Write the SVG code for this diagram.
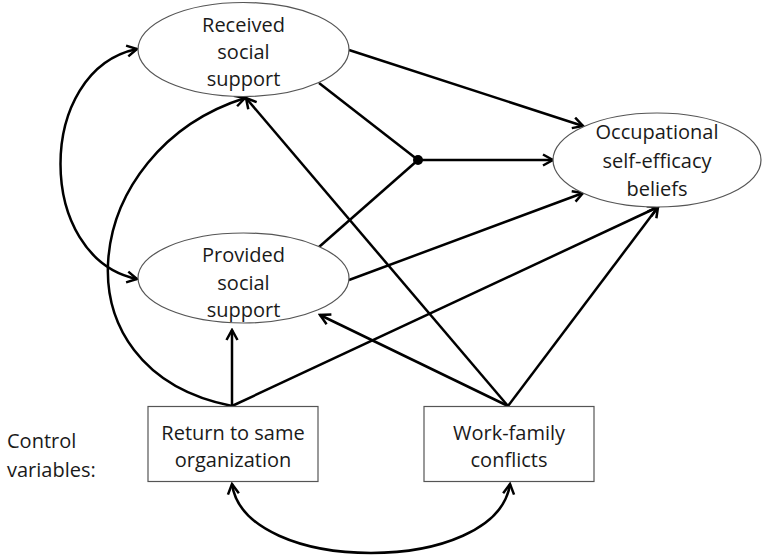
<svg xmlns="http://www.w3.org/2000/svg" width="766" height="557" viewBox="0 0 766 557">
<style>
.node{fill:#fff;stroke:#555;stroke-width:1.2}
.t{font-family:"Open Sans","Liberation Sans",sans-serif;font-size:20px;fill:#1a1a1a;text-anchor:middle}
.c{fill:none;stroke:#000;stroke-width:2.5}
.ar{marker-end:url(#ah)}
.dbl{marker-start:url(#ah);marker-end:url(#ah)}
</style>
<defs>
<marker id="ah" markerUnits="userSpaceOnUse" viewBox="0 0 14 14" refX="12" refY="7" markerWidth="14" markerHeight="14" orient="auto-start-reverse">
<path d="M2,1.5 L12,7 L2,12.5" fill="none" stroke="#000" stroke-width="2.5" stroke-linejoin="miter"/>
</marker>
</defs>
<rect width="766" height="557" fill="#fff"/>
<g id="connectors">
<path class="c dbl" d="M137,49 C35,70 35,258 137,279"/>
<path class="c ar" d="M232,406 C50,370 80,150 245,98"/>
<path class="c dbl" d="M232,484 C245,576 497,576 510,484"/>
<path class="c ar" d="M349,50 L583,126"/>
<path class="c" d="M319,83 L418,160"/>
<path class="c" d="M319,247 L418,160"/>
<path class="c ar" d="M418,160 L553,160"/>
<path class="c ar" d="M349,280 L583,193"/>
<path class="c ar" d="M232,406 L232,330"/>
<path class="c ar" d="M232,406 L658,207"/>
<path class="c ar" d="M508,406 L658,207"/>
<path class="c ar" d="M508,406 L246,98"/>
<path class="c ar" d="M508,406 L320,315"/>
<circle cx="418" cy="160" r="5" fill="#000"/>
</g>
<g id="received">
<ellipse class="node" cx="243.5" cy="49.5" rx="105.5" ry="47"/>
<text class="t" x="243.5" y="32">Received</text>
<text class="t" x="243.5" y="59">social</text>
<text class="t" x="243.5" y="86">support</text>
</g>
<g id="provided">
<ellipse class="node" cx="243.5" cy="278" rx="105.5" ry="45"/>
<text class="t" x="243.5" y="262">Provided</text>
<text class="t" x="243.5" y="290">social</text>
<text class="t" x="243.5" y="317">support</text>
</g>
<g id="occupational">
<ellipse class="node" cx="657" cy="160" rx="104" ry="47"/>
<text class="t" x="657" y="139">Occupational</text>
<text class="t" x="657" y="168">self-efficacy</text>
<text class="t" x="657" y="196">beliefs</text>
</g>
<g id="control-label">
<text class="t" x="7" y="448" style="text-anchor:start">Control</text>
<text class="t" x="7" y="477" style="text-anchor:start">variables:</text>
</g>
<g id="return">
<rect class="node" x="148" y="406.5" width="170" height="75"/>
<text class="t" x="233" y="440">Return to same</text>
<text class="t" x="233" y="467">organization</text>
</g>
<g id="workfamily">
<rect class="node" x="424" y="406.5" width="170" height="75"/>
<text class="t" x="509" y="440">Work-family</text>
<text class="t" x="509" y="467">conflicts</text>
</g>
</svg>
